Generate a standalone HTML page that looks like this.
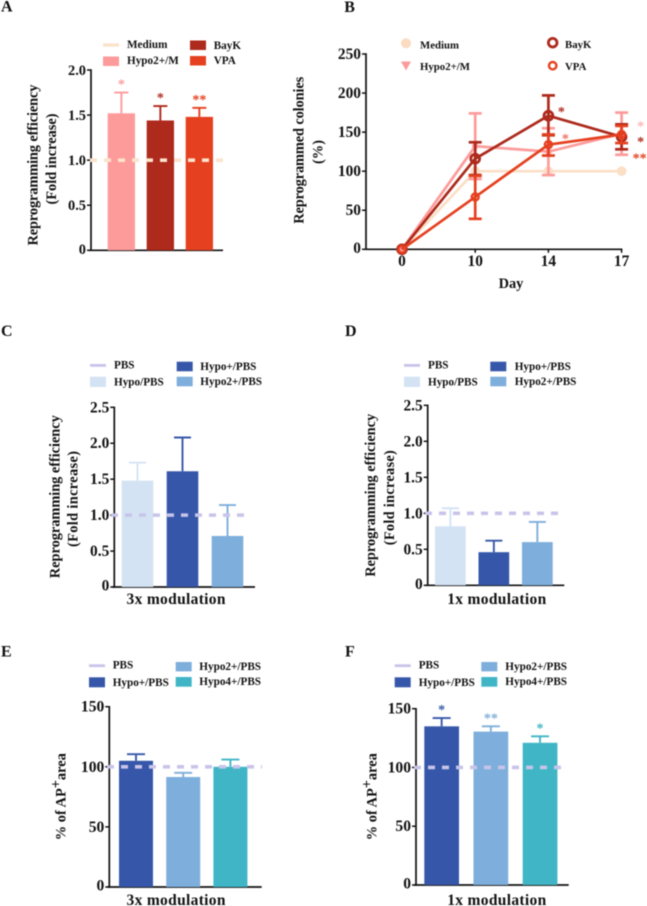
<!DOCTYPE html>
<html lang="en">
<head>
<meta charset="utf-8">
<title>Reprogramming efficiency figure</title>
<style>
html,body{margin:0;padding:0;background:#fff;width:647px;height:906px;overflow:hidden}
svg{display:block;filter:blur(0.45px)}
text{font-family:"Liberation Serif",serif;font-weight:bold;fill:#111}
.leg{font-size:11.2px}
.legb{font-size:10.8px}
.tick{font-size:15.4px;text-anchor:end}
.ttl{font-size:14.4px;text-anchor:middle}
.mod{font-size:15.5px;text-anchor:middle}
.pl{font-size:16px}
</style>
</head>
<body>
<svg id="figure" width="647" height="906" viewBox="0 0 647 906" xmlns="http://www.w3.org/2000/svg">
  <g>
    <text class="pl" x="1" y="11.5">A</text>
    <rect x="103" y="43.3" width="16" height="3.4" fill="#fbe3cc"/>
    <text class="leg" x="127" y="48">Medium</text>
    <rect x="103" y="56.5" width="16" height="9.5" fill="#fd9b9b"/>
    <text class="leg" x="127" y="64">Hypo2+/M</text>
    <rect x="190" y="40.5" width="16" height="9.5" fill="#ad2a1c"/>
    <text class="leg" x="213.7" y="49">BayK</text>
    <rect x="190" y="56" width="16" height="9.5" fill="#e5401f"/>
    <text class="leg" x="213.7" y="64">VPA</text>
    <text class="ttl" transform="translate(37.7 165) rotate(-90)" textLength="161">Reprogramming efficiency</text>
    <text class="ttl" transform="translate(56 159) rotate(-90)" textLength="91">(Fold increase)</text>
  </g>
  <g>
    <text class="pl" x="344.3" y="12">B</text>
    <circle cx="406" cy="43.3" r="5" fill="#fcdcc0"/>
    <text class="legb" x="420" y="48.3">Medium</text>
    <path d="M401 61.5h10l-5 9z" fill="#fd9b9b"/>
    <text class="legb" x="420" y="70">Hypo2+/M</text>
    <circle cx="552.7" cy="42.7" r="4.3" fill="none" stroke="#ad2a1c" stroke-width="2.8"/>
    <text class="legb" x="565" y="48">BayK</text>
    <circle cx="552.7" cy="65.7" r="3.7" fill="none" stroke="#e5401f" stroke-width="2.4"/>
    <text class="legb" x="565" y="70">VPA</text>
    <text class="ttl" transform="translate(303.3 150.3) rotate(-90)" textLength="147">Reprogrammed colonies</text>
    <text class="ttl" transform="translate(322.7 152) rotate(-90)">(%)</text>
    <text class="ttl" x="511" y="288">Day</text>
  </g>
  <g>
    <text class="pl" x="1" y="336">C</text>
    <rect x="90" y="364" width="16" height="2.8" fill="#c8c4ea"/>
    <text class="leg" x="114" y="368.7">PBS</text>
    <rect x="90" y="376.7" width="16" height="10.3" fill="#d4e3f4"/>
    <text class="leg" x="114" y="385.7">Hypo/PBS</text>
    <rect x="176.7" y="361.7" width="16" height="9.6" fill="#3657a9"/>
    <text class="leg" x="200.3" y="370">Hypo+/PBS</text>
    <rect x="176.7" y="376.7" width="16" height="9.6" fill="#7eaedb"/>
    <text class="leg" x="200.3" y="385">Hypo2+/PBS</text>
    <text class="ttl" transform="translate(59.3 496.7) rotate(-90)" textLength="163">Reprogramming efficiency</text>
    <text class="ttl" transform="translate(77.3 499) rotate(-90)" textLength="96">(Fold increase)</text>
    <text class="mod" x="176" y="604" textLength="99">3x modulation</text>
  </g>
  <g>
    <text class="pl" x="345" y="336">D</text>
    <rect x="404" y="364" width="16" height="2.8" fill="#c8c4ea"/>
    <text class="leg" x="428" y="368.7">PBS</text>
    <rect x="404" y="376.7" width="16" height="10.3" fill="#d4e3f4"/>
    <text class="leg" x="428" y="385.7">Hypo/PBS</text>
    <rect x="490.3" y="361.7" width="16" height="9.6" fill="#3657a9"/>
    <text class="leg" x="514.7" y="370">Hypo+/PBS</text>
    <rect x="490.3" y="376.7" width="16" height="9.6" fill="#7eaedb"/>
    <text class="leg" x="514.7" y="385">Hypo2+/PBS</text>
    <text class="ttl" transform="translate(375 495.3) rotate(-90)" textLength="163">Reprogramming efficiency</text>
    <text class="ttl" transform="translate(394 497.7) rotate(-90)" textLength="95">(Fold increase)</text>
    <text class="mod" x="496.7" y="604" textLength="99">1x modulation</text>
  </g>
  <g>
    <text class="pl" x="1" y="656.7">E</text>
    <rect x="89" y="664.3" width="16" height="2.8" fill="#c8c4ea"/>
    <text class="leg" x="112.7" y="668.7">PBS</text>
    <rect x="89" y="677.3" width="16" height="10" fill="#3657a9"/>
    <text class="leg" x="112.7" y="686">Hypo+/PBS</text>
    <rect x="175.7" y="662" width="16" height="9.4" fill="#7eaedb"/>
    <text class="leg" x="199.3" y="670">Hypo2+/PBS</text>
    <rect x="175.7" y="677" width="16" height="9.7" fill="#40b5c6"/>
    <text class="leg" x="199.3" y="685">Hypo4+/PBS</text>
    <text class="ttl" transform="translate(65.7 796.7) rotate(-90)">% of AP<tspan dy="-5">+</tspan><tspan dy="5">area</tspan></text>
    <text class="mod" x="176" y="905" textLength="99">3x modulation</text>
  </g>
  <g>
    <text class="pl" x="345" y="656.7">F</text>
    <rect x="394.7" y="664.3" width="16" height="2.8" fill="#c8c4ea"/>
    <text class="leg" x="418.7" y="668.7">PBS</text>
    <rect x="394.7" y="677.3" width="16" height="10" fill="#3657a9"/>
    <text class="leg" x="418.7" y="686">Hypo+/PBS</text>
    <rect x="481.3" y="662" width="16" height="9.4" fill="#7eaedb"/>
    <text class="leg" x="505.3" y="670">Hypo2+/PBS</text>
    <rect x="481.3" y="677" width="16" height="9.7" fill="#40b5c6"/>
    <text class="leg" x="505.3" y="685">Hypo4+/PBS</text>
    <text class="ttl" transform="translate(376.7 796.7) rotate(-90)">% of AP<tspan dy="-5">+</tspan><tspan dy="5">area</tspan></text>
    <text class="mod" x="496.7" y="905" textLength="99">1x modulation</text>
  </g>
</svg>
<script>
// Panel A
const aValues = [1.52, 1.44, 1.48];
const aErrorTops = [1.75, 1.60, 1.58];
const aStars = ['*', '*', '**'];
const aReference = 1;
const aTicks = [0, 0.5, 1, 1.5, 2];
const aTickLabels = ['0', '0.5', '1.0', '1.5', '2.0'];
// Panel C
const cValues = [1.48, 1.61, 0.71];
const cErrorTops = [1.73, 2.08, 1.14];
const cStars = ['', '', ''];
const cReference = 1;
const cTicks = [0, 0.5, 1, 1.5, 2, 2.5];
const cTickLabels = ['0', '0.5', '1.0', '1.5', '2.0', '2.5'];
// Panel D
const dValues = [0.82, 0.46, 0.60];
const dErrorTops = [1.07, 0.62, 0.88];
const dStars = ['', '', ''];
const dReference = 1;
const dTicks = [0, 0.5, 1, 1.5, 2, 2.5];
const dTickLabels = ['0', '0.5', '1.0', '1.5', '2.0', '2.5'];
// Panel E
const eValues = [105, 91.5, 100];
const eErrorTops = [110.5, 95, 106];
const eStars = ['', '', ''];
const eReference = 100;
const eTicks = [0, 50, 100, 150];
const eTickLabels = ['0', '50', '100', '150'];
// Panel F
const fValues = [135, 130.5, 121];
const fErrorTops = [142, 135, 126.5];
const fStars = ['*', '**', '*'];
const fReference = 100;
const fTicks = [0, 50, 100, 150];
const fTickLabels = ['0', '50', '100', '150'];
// Panel B
const bDays = ['0', '10', '14', '17'];
const bTicks = [0, 50, 100, 150, 200, 250];
const bTickLabels = ['0', '50', '100', '150', '200', '250'];
const bMedium = [0, 100, 100, 100];
const bHypo = [0, 132, 125, 148];
const bHypoLow = [0, 90, 95, 121];
const bHypoHigh = [0, 174, 155, 175];
const bBayK = [0, 116, 171, 144];
const bBayKLow = [0, 95, 146, 128];
const bBayKHigh = [0, 137, 197, 160];
const bVpa = [0, 67, 134, 147];
const bVpaLow = [0, 39, 120, 136];
const bVpaHigh = [0, 94, 147, 158];
const bStarLabels = ['*', '*', '*', '*', '**'];
const bStarDayIndex = [2, 2, 3, 3, 3];
const bStarLevels = [178, 144, 160, 140, 119];

const NS = 'http://www.w3.org/2000/svg';
const root = document.getElementById('figure');
function mk(parent, tag, attrs, txt) {
  const el = document.createElementNS(NS, tag);
  for (const k in attrs) el.setAttribute(k, attrs[k]);
  if (txt !== undefined) el.textContent = txt;
  parent.appendChild(el);
  return el;
}
function drawAxisY(g, o, y, ticks, labels) {
  const axis = mk(g, 'line', {x1: o.x0, x2: o.x0, y1: o.yTop - 0.7, y2: o.yZero + 0.7, stroke: '#111', 'stroke-width': 1.7});
  
  
  ticks.forEach(function (t, i) {
    const tk = mk(g, 'line', {x1: o.x0 - 4, x2: o.x0, y1: y(t), y2: y(t), stroke: '#111', 'stroke-width': 1.5});
    
    
    const lb = mk(g, 'text', {class: 'tick', x: o.x0 - 5, y: y(t) + (t === 0 ? 3.5 : 5), style: 'font-size:' + o.tickSize + 'px'}, labels[i]);
    
    
  });
}
function drawBarPanel(o, values, tops, stars, reference, ticks, labels) {
  const g = mk(root, 'g', {});
  
  
  const max = ticks[ticks.length - 1];
  const y = function (v) { return o.yZero - v / max * (o.yZero - o.yTop); };
  const barX = function (i) { return o.bar0 + i * o.step; };
  const xAxis = mk(g, 'line', {x1: o.x0 - 2, x2: o.xEnd, y1: o.yZero, y2: o.yZero, stroke: '#111', 'stroke-width': 1.7});
  
  
  values.forEach(function (v, i) {
    const cx = barX(i) + o.barW / 2;
    const col = o.colors[i];
    const stem = mk(g, 'line', {x1: cx, x2: cx, y1: y(v), y2: y(tops[i]), stroke: col, 'stroke-width': 1.9});
    
    
    const cap = mk(g, 'line', {x1: cx - o.cap / 2, x2: cx + o.cap / 2, y1: y(tops[i]), y2: y(tops[i]), stroke: col, 'stroke-width': 1.9});
    
    
    const bar = mk(g, 'rect', {x: barX(i), y: y(v), width: o.barW, height: o.yZero - y(v), fill: col});
    
    
    if (stars[i]) {
      const s = mk(g, 'text', {x: cx, y: y(tops[i]) - 4, 'text-anchor': 'middle', style: 'font-size:14px;fill:' + col}, stars[i]);
      
      
    }
  });
  drawAxisY(g, o, y, ticks, labels);
  const ref = mk(g, 'line', {x1: o.refStart, x2: o.refEnd, y1: y(reference), y2: y(reference), stroke: o.refColor, 'stroke-width': 3.6, 'stroke-dasharray': '7 7'});
  
  
}
const red = ['#fd9b9b', '#ad2a1c', '#e5401f'];
const blue = ['#d4e3f4', '#3657a9', '#7eaedb'];
const teal = ['#3657a9', '#7eaedb', '#40b5c6'];
drawBarPanel({name: 'panel-a-chart', x0: 91, yTop: 70, yZero: 250.3, xEnd: 223, bar0: 107.7, step: 39, barW: 27.3, cap: 14, colors: red, refStart: 90, refEnd: 223, refColor: '#fbe3cc', tickSize: 14.4}, aValues, aErrorTops, aStars, aReference, aTicks, aTickLabels);
drawBarPanel({name: 'panel-c-chart', x0: 114.3, yTop: 407.3, yZero: 587, xEnd: 255, bar0: 121.7, step: 45, barW: 31.6, cap: 17, colors: blue, refStart: 111, refEnd: 247, refColor: '#c8c4ea', tickSize: 15.4}, cValues, cErrorTops, cStars, cReference, cTicks, cTickLabels);
drawBarPanel({name: 'panel-d-chart', x0: 427.7, yTop: 405.3, yZero: 585.3, xEnd: 564.3, bar0: 435, step: 43.5, barW: 30.7, cap: 17, colors: blue, refStart: 425, refEnd: 561, refColor: '#c8c4ea', tickSize: 15.4}, dValues, dErrorTops, dStars, dReference, dTicks, dTickLabels);
drawBarPanel({name: 'panel-e-chart', x0: 109.3, yTop: 706.7, yZero: 887, xEnd: 261.7, bar0: 119, step: 47.2, barW: 34, cap: 18, colors: teal, refStart: 107, refEnd: 262, refColor: '#c8c4ea', tickSize: 15.6}, eValues, eErrorTops, eStars, eReference, eTicks, eTickLabels);
drawBarPanel({name: 'panel-f-chart', x0: 416, yTop: 708.7, yZero: 885, xEnd: 568.7, bar0: 424.3, step: 49.2, barW: 34.7, cap: 18, colors: teal, refStart: 414, refEnd: 568, refColor: '#c8c4ea', tickSize: 15.6}, fValues, fErrorTops, fStars, fReference, fTicks, fTickLabels);

(function drawLinePanel() {
  const o = {x0: 366, yTop: 54, yZero: 249.3, xEnd: 621.7, tickSize: 15.4};
  const g = mk(root, 'g', {});
  
  
  const y = function (v) { return o.yZero - v / 250 * (o.yZero - o.yTop); };
  const x = function (i) { return 402 + i * 73.2; };
  const xAxis = mk(g, 'line', {x1: o.x0, x2: o.xEnd + 0.7, y1: o.yZero, y2: o.yZero, stroke: '#111', 'stroke-width': 1.7});
  
  
  bDays.forEach(function (d, i) {
    const t = mk(g, 'line', {x1: x(i), x2: x(i), y1: o.yZero, y2: o.yZero + 3.5, stroke: '#111', 'stroke-width': 1.5});
    
    
    const l = mk(g, 'text', {x: x(i), y: 266, 'text-anchor': 'middle', style: 'font-size:15.4px'}, d);
    
    
  });
  drawAxisY(g, o, y, bTicks, bTickLabels);
  const pts = function (arr) { return arr.map(function (v, i) { return x(i) + ',' + y(v); }).join(' '); };
  const drawErr = function (low, high, col) {
    low.forEach(function (lo, i) {
      if (i === 0) return;
      const st = mk(g, 'line', {x1: x(i), x2: x(i), y1: y(lo), y2: y(high[i]), stroke: col, 'stroke-width': 2.7});
      
      
      [lo, high[i]].forEach(function (v) {
        const c = mk(g, 'line', {x1: x(i) - 6.5, x2: x(i) + 6.5, y1: y(v), y2: y(v), stroke: col, 'stroke-width': 2.7});
        
        
      });
    });
  };
  const medLine = mk(g, 'polyline', {points: pts(bMedium), fill: 'none', stroke: '#fbdfc6', 'stroke-width': 2.7});
  
  
  bMedium.forEach(function (v, i) {
    const c = mk(g, 'circle', {cx: x(i), cy: y(v), r: 4.8, fill: '#fbdfc6'});
    
    
  });
  drawErr(bHypoLow, bHypoHigh, '#fd9b9b');
  const hypoLine = mk(g, 'polyline', {points: pts(bHypo), fill: 'none', stroke: '#fd9b9b', 'stroke-width': 2.7});
  
  
  bHypo.forEach(function (v, i) {
    const c = mk(g, 'circle', {cx: x(i), cy: y(v), r: 3.2, fill: '#fd9b9b'});
    
    
  });
  drawErr(bBayKLow, bBayKHigh, '#ad2a1c');
  const bayLine = mk(g, 'polyline', {points: pts(bBayK), fill: 'none', stroke: '#ad2a1c', 'stroke-width': 2.7});
  
  
  bBayK.forEach(function (v, i) {
    const c = mk(g, 'circle', {cx: x(i), cy: y(v), r: 4.4, fill: 'none', stroke: '#ad2a1c', 'stroke-width': 2.8});
    
    
  });
  drawErr(bVpaLow, bVpaHigh, '#e5401f');
  const vpaLine = mk(g, 'polyline', {points: pts(bVpa), fill: 'none', stroke: '#e5401f', 'stroke-width': 2.7});
  
  
  bVpa.forEach(function (v, i) {
    const c = mk(g, 'circle', {cx: x(i), cy: y(v), r: 3.5, fill: 'none', stroke: '#e5401f', 'stroke-width': 2.4});
    
    
  });
  const starColors = ['#ad2a1c', '#f0705a', '#fdb5b5', '#ad2a1c', '#e5401f'];
  const starShift = [13, 17, 19, 19, 18];
  bStarLabels.forEach(function (s, i) {
    const t = mk(g, 'text', {x: x(bStarDayIndex[i]) + starShift[i], y: y(bStarLevels[i]) + 6, 'text-anchor': 'middle', style: 'font-size:14px;fill:' + starColors[i]}, s);
    
    
  });
})();
</script>
</body>
</html>
